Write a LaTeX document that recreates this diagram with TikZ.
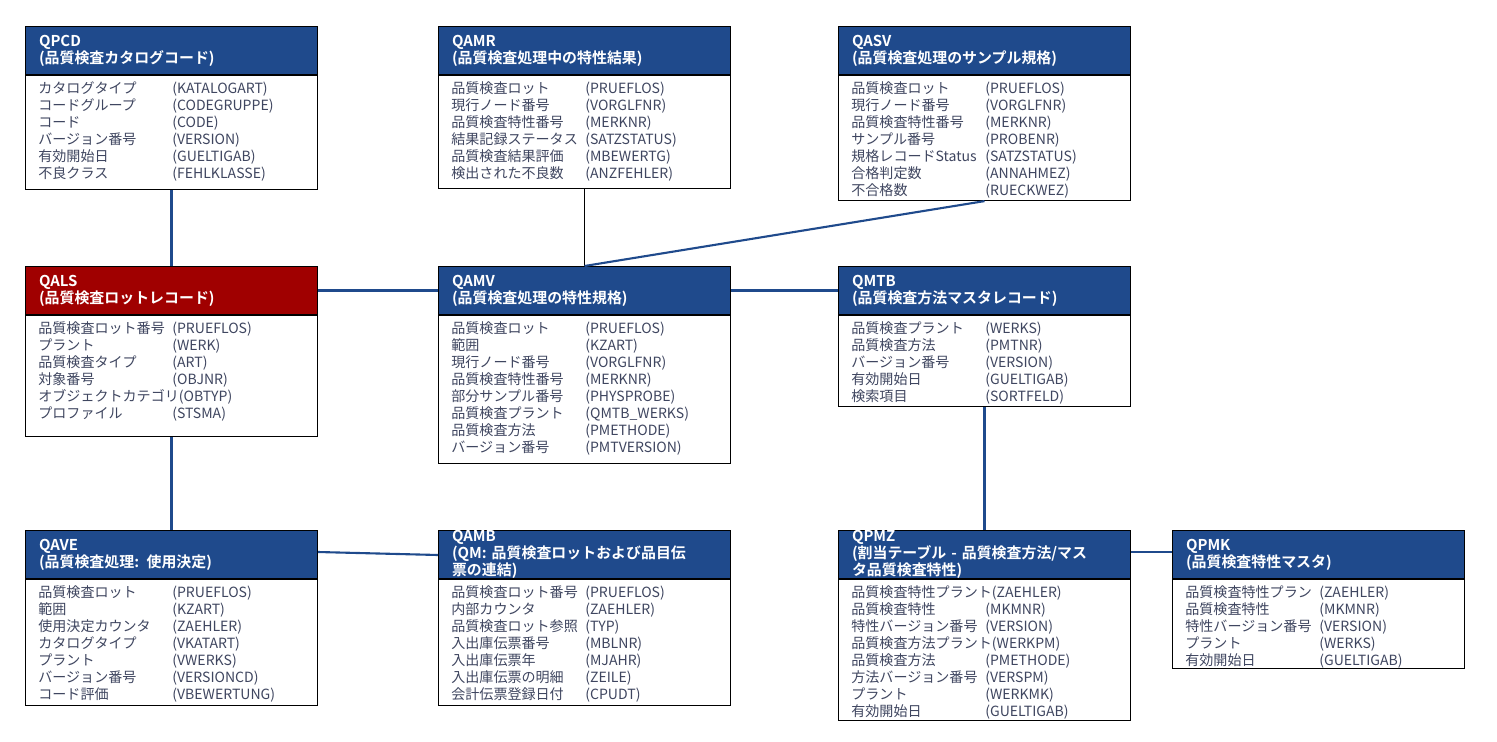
\documentclass[tikz,border=0pt]{standalone}
\usepackage{fontspec}
\setmainfont{Noto Sans CJK JP}[BoldFont={Noto Sans CJK JP Bold}]
\usepackage{tikz}
\definecolor{hdrblue}{HTML}{1F4A8C}
\definecolor{hdrred}{HTML}{A00000}
\definecolor{rowtext}{HTML}{3F4660}
\newlength\lblw
\newcommand\rowtxt[2]{\settowidth\lblw{#1}\ifdim\lblw<2.68cm\makebox[2.68cm][l]{#1}\else#1\fi#2}
% table: name, x, y, colour, title, body height, rows
\newcommand\erbox[7]{%
  \node[hdr,fill=#4,anchor=north west] (#1) at (#2,#3) {#5};
  \node[bodybox,minimum height=#6*0.02cm,anchor=north] (#1-b) at (#1.south) {};
  \foreach \lbl/\val [count=\i] in {#7}
    \path (#1.south west) ++(13,{17*\i-3}) node[rowlbl] {\rowtxt{\lbl}{\val}};
}
\begin{document}
\begin{tikzpicture}[x=0.02cm,y=-0.02cm,
  hdr/.style={draw=black,line width=0.6pt,text=white,font=\fontsize{8.5}{9.6}\selectfont\bfseries,
    minimum width=5.84cm,minimum height=0.96cm,text width=5.3cm,align=left,inner xsep=0.27cm,inner ysep=0pt},
  bodybox/.style={draw=black,line width=0.6pt,fill=white,minimum width=5.84cm,inner sep=0pt},
  rowlbl/.style={anchor=west,inner sep=0pt,text=rowtext,font=\fontsize{8}{9}\selectfont},
  link/.style={draw=hdrblue,line width=1.2pt}]
\useasboundingbox (0,0) rectangle (1497,741);
\erbox{qpcd}{25}{26}{hdrblue}{QPCD\\(品質検査カタログコード)}{114}
  {カタログタイプ/(KATALOGART),コードグループ/(CODEGRUPPE),コード/(CODE),バージョン番号/(VERSION),有効開始日/(GUELTIGAB),不良クラス/(FEHLKLASSE)}
\erbox{qamr}{438}{26}{hdrblue}{QAMR\\(品質検査処理中の特性結果)}{113}
  {品質検査ロット/(PRUEFLOS),現行ノード番号/(VORGLFNR),品質検査特性番号/(MERKNR),結果記録ステータス/(SATZSTATUS),品質検査結果評価/(MBEWERTG),検出された不良数/(ANZFEHLER)}
\erbox{qasv}{838}{26}{hdrblue}{QASV\\(品質検査処理のサンプル規格)}{125}
  {品質検査ロット/(PRUEFLOS),現行ノード番号/(VORGLFNR),品質検査特性番号/(MERKNR),サンプル番号/(PROBENR),規格レコードStatus/(SATZSTATUS),合格判定数/(ANNAHMEZ),不合格数/(RUECKWEZ)}
\erbox{qals}{25}{266}{hdrred}{QALS\\(品質検査ロットレコード)}{121}
  {品質検査ロット番号/(PRUEFLOS),プラント/(WERK),品質検査タイプ/(ART),対象番号/(OBJNR),オブジェクトカテゴリ/(OBTYP),プロファイル/(STSMA)}
\erbox{qamv}{438}{266}{hdrblue}{QAMV\\(品質検査処理の特性規格)}{148}
  {品質検査ロット/(PRUEFLOS),範囲/(KZART),現行ノード番号/(VORGLFNR),品質検査特性番号/(MERKNR),部分サンプル番号/(PHYSPROBE),品質検査プラント/(QMTB\_WERKS),品質検査方法/(PMETHODE),バージョン番号/(PMTVERSION)}
\erbox{qmtb}{838}{266}{hdrblue}{QMTB\\(品質検査方法マスタレコード)}{91}
  {品質検査プラント/(WERKS),品質検査方法/(PMTNR),バージョン番号/(VERSION),有効開始日/(GUELTIGAB),検索項目/(SORTFELD)}
\erbox{qave}{25}{530}{hdrblue}{QAVE\\(品質検査処理: 使用決定)}{126}
  {品質検査ロット/(PRUEFLOS),範囲/(KZART),使用決定カウンタ/(ZAEHLER),カタログタイプ/(VKATART),プラント/(VWERKS),バージョン番号/(VERSIONCD),コード評価/(VBEWERTUNG)}
\erbox{qamb}{438}{530}{hdrblue}{QAMB\\(QM: 品質検査ロットおよび品目伝\\票の連結)}{126}
  {品質検査ロット番号/(PRUEFLOS),内部カウンタ/(ZAEHLER),品質検査ロット参照/(TYP),入出庫伝票番号/(MBLNR),入出庫伝票年/(MJAHR),入出庫伝票の明細/(ZEILE),会計伝票登録日付/(CPUDT)}
\erbox{qpmz}{838}{530}{hdrblue}{QPMZ\\(割当テーブル - 品質検査方法/マス\\タ品質検査特性)}{141}
  {品質検査特性プラント/(ZAEHLER),品質検査特性/(MKMNR),特性バージョン番号/(VERSION),品質検査方法プラント/(WERKPM),品質検査方法/(PMETHODE),方法バージョン番号/(VERSPM),プラント/(WERKMK),有効開始日/(GUELTIGAB)}
\erbox{qpmk}{1172}{530}{hdrblue}{QPMK\\(品質検査特性マスタ)}{89}
  {品質検査特性プラン/(ZAEHLER),品質検査特性/(MKMNR),特性バージョン番号/(VERSION),プラント/(WERKS),有効開始日/(GUELTIGAB)}
% connectors
\draw[link] (qpcd-b.south) -- (qals.north);
\draw[link] (qals.east) -- (qamv.west);
\draw[black,line width=0.8pt] (qamr-b.south) -- (qamv.north);
\draw[link] (qasv-b.south) -- (qamv.north);
\draw[link] (qamv.east) -- (qmtb.west);
\draw[link] (qals-b.south) -- (qave.north);
\draw[link] ([yshift=-0.44cm]qave.north east) -- ([yshift=-0.5cm]qamb.north west);
\draw[link] (qmtb-b.south) -- (qpmz.north);
\draw[link] ([yshift=-0.44cm]qpmz.north east) -- ([yshift=-0.44cm]qpmk.north west);
\end{tikzpicture}
\end{document}
